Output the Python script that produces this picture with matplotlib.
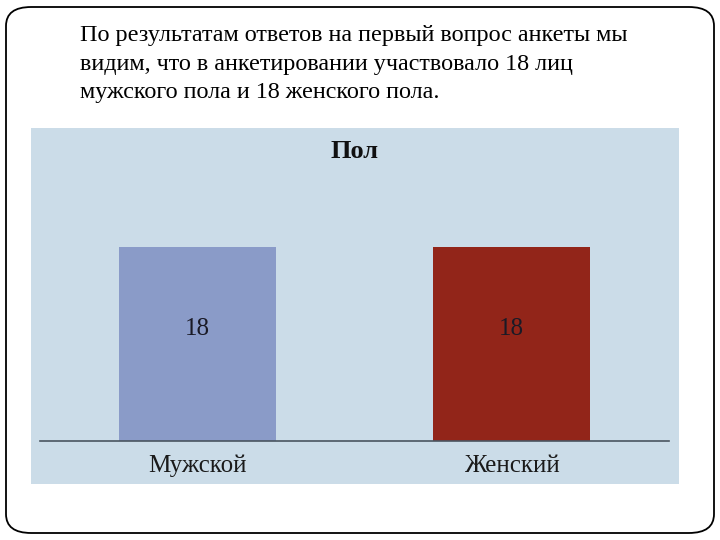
import matplotlib
matplotlib.use('Agg')
import matplotlib.pyplot as plt
from matplotlib.patches import FancyBboxPatch, Rectangle

plt.rcParams['font.family'] = ['Liberation Serif', 'DejaVu Serif']

# данные
categories = ['Мужской', 'Женский']
values = [18, 18]
bar_colors = ['#8A9BC8', '#922519']
title = 'Пол'
intro = ('По результатам ответов на первый вопрос анкеты мы\n'
         'видим, что в анкетировании участвовало 18 лиц\n'
         'мужского пола и 18 женского пола.')

fig = plt.figure(figsize=(7.2, 5.4), dpi=100)
W, H = 720, 540

# рамка слайда
frame = FancyBboxPatch((6 / W, 7 / H), 708 / W, 526 / H,
                       boxstyle='round,pad=0,rounding_size=0.035',
                       transform=fig.transFigure, facecolor='white',
                       edgecolor='black', linewidth=1.3, zorder=-2)
fig.patches.append(frame)

# текст сверху
fig.text(80 / W, 1 - 25 / H, intro, ha='left', va='top', fontsize=17.4,
         linespacing=1.48, color='black')

# фон диаграммы
panel = Rectangle((31 / W, 1 - 484 / H), 648 / W, 356 / H,
                  transform=fig.transFigure, facecolor='#CBDCE8',
                  edgecolor='none', zorder=-1)
fig.patches.append(panel)

fig.text(355 / W, 1 - 151 / H, title, ha='center', va='center',
         fontsize=19, fontweight='bold', color='#111111')

ax = fig.add_axes([40 / W, 1 - 441 / H, 629 / W, 215.6 / H])
ax.patch.set_visible(False)
x = range(len(categories))
bars = ax.bar(x, values, width=0.5, color=bar_colors)
ax.set_xlim(-0.5, 1.5)
ax.set_ylim(0, 20)
for b, v in zip(bars, values):
    ax.text(b.get_x() + b.get_width() / 2, v / 2 + 1.4, str(v),
            ha='center', va='center', fontsize=18, color='#1a1a26')

ax.set_xticks(list(x))
ax.set_xticklabels(categories, fontsize=18, color='#1a1a1a')
ax.tick_params(axis='x', length=0, pad=10)
ax.set_yticks([])
for s in ['top', 'left', 'right']:
    ax.spines[s].set_visible(False)
ax.spines['bottom'].set_color('#4a5560')
ax.spines['bottom'].set_linewidth(1.2)

fig.savefig('out.png', dpi=100)
